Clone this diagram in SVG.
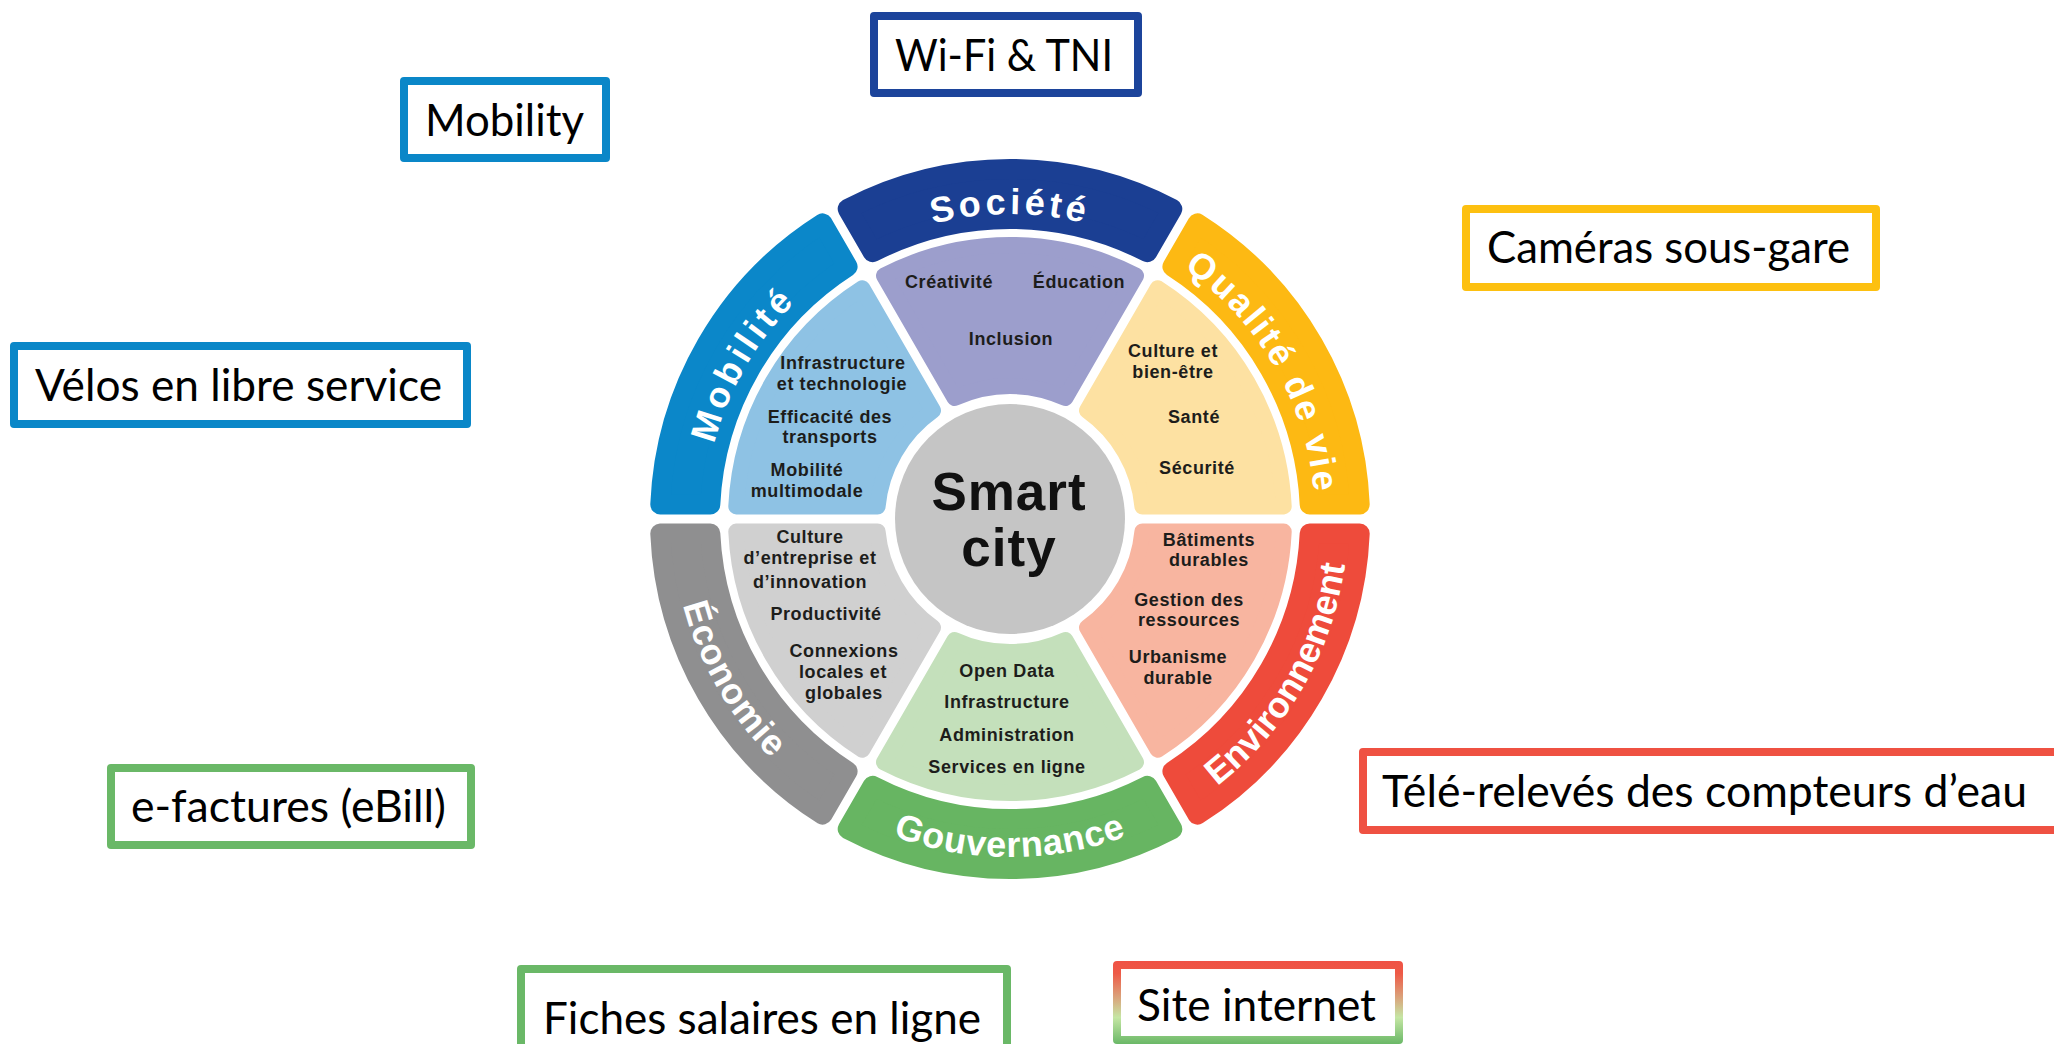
<svg xmlns="http://www.w3.org/2000/svg" xmlns:xlink="http://www.w3.org/1999/xlink" width="2054" height="1044" viewBox="0 0 2054 1044">
<style>
.box{fill:#fff;stroke-width:8;stroke-linejoin:round}
.bt{font-family:Lato,'Liberation Sans',Arial,sans-serif;font-size:44px;fill:#000}
.band{stroke-width:20;stroke-linejoin:round}
.seg{stroke-width:16;stroke-linejoin:round}
.lab{font-family:'Liberation Sans',Arial,sans-serif;font-weight:bold;font-size:36px;fill:#fff}
.it{font-family:'Liberation Sans',Arial,sans-serif;font-weight:bold;font-size:18px;fill:#1d1d1b;text-anchor:middle;letter-spacing:0.6px}
.big{font-family:'Liberation Sans',Arial,sans-serif;font-weight:bold;font-size:53px;fill:#111;text-anchor:middle;letter-spacing:1px}
</style>
<defs>
<path id="bandShape" d="M -162.3 -310.1 A 350 350 0 0 1 162.3 -310.1 L 137.3 -266.8 A 300 300 0 0 0 -137.3 -266.8 Z"/>
<path id="segShape" d="M -126.0 -243.3 A 274 274 0 0 1 126.0 -243.3 L 55.4 -120.9 A 133 133 0 0 0 -55.4 -120.9 Z"/>
<path id="tp-soc" d="M 813.9 285.4 A 305 305 0 0 1 1206.1 285.4"/>
<path id="tp-qual" d="M 1114.3 232.4 A 305 305 0 0 1 1310.4 572.0"/>
<path id="tp-mob" d="M 709.6 572.0 A 305 305 0 0 1 905.7 232.4"/>
<path id="tp-env" d="M 1125.6 836.6 A 338 338 0 0 0 1342.9 460.3"/>
<path id="tp-gouv" d="M 792.7 777.9 A 338 338 0 0 0 1227.3 777.9"/>
<path id="tp-eco" d="M 677.1 460.3 A 338 338 0 0 0 894.4 836.6"/>
<linearGradient id="gradSite" gradientUnits="userSpaceOnUse" x1="0" y1="961" x2="0" y2="1044">
<stop offset="0" stop-color="#ef5245"/>
<stop offset="0.15" stop-color="#ee5a47"/>
<stop offset="0.45" stop-color="#d9a67d"/>
<stop offset="0.68" stop-color="#c5e6a4"/>
<stop offset="1" stop-color="#6ab867"/>
</linearGradient>
</defs>
<rect width="2054" height="1044" fill="#fff"/>

<g id="connectors"/>

<g id="sector-societe">
<use href="#bandShape" class="band" fill="#1b3f93" stroke="#1b3f93" transform="translate(1010 519)"/>
<use href="#segShape" class="seg" fill="#9c9ecc" stroke="#9c9ecc" transform="translate(1010 519)"/>
<text class="lab" letter-spacing="4"><textPath href="#tp-soc" startOffset="50%" text-anchor="middle">Société</textPath></text>
<text class="it" x="949" y="288">Créativité</text>
<text class="it" x="1079" y="288">Éducation</text>
<text class="it" x="1011" y="345">Inclusion</text>
</g>

<g id="sector-qualite">
<use href="#bandShape" class="band" fill="#fdb913" stroke="#fdb913" transform="translate(1010 519) rotate(60)"/>
<use href="#segShape" class="seg" fill="#fde1a2" stroke="#fde1a2" transform="translate(1010 519) rotate(60)"/>
<text class="lab" letter-spacing="2.5"><textPath href="#tp-qual" startOffset="50%" text-anchor="middle">Qualité de vie</textPath></text>
<text class="it" x="1173" y="357">Culture et</text>
<text class="it" x="1173" y="378">bien-être</text>
<text class="it" x="1194" y="423">Santé</text>
<text class="it" x="1197" y="474">Sécurité</text>
</g>

<g id="sector-environnement">
<use href="#bandShape" class="band" fill="#ee4b3b" stroke="#ee4b3b" transform="translate(1010 519) rotate(120)"/>
<use href="#segShape" class="seg" fill="#f8b5a0" stroke="#f8b5a0" transform="translate(1010 519) rotate(120)"/>
<text class="lab" letter-spacing="0"><textPath href="#tp-env" startOffset="50%" text-anchor="middle">Environnement</textPath></text>
<text class="it" x="1209" y="546">Bâtiments</text>
<text class="it" x="1209" y="566">durables</text>
<text class="it" x="1189" y="606">Gestion des</text>
<text class="it" x="1189" y="626">ressources</text>
<text class="it" x="1178" y="663">Urbanisme</text>
<text class="it" x="1178" y="684">durable</text>
</g>

<g id="sector-gouvernance">
<use href="#bandShape" class="band" fill="#67b562" stroke="#67b562" transform="translate(1010 519) rotate(180)"/>
<use href="#segShape" class="seg" fill="#c4e0bb" stroke="#c4e0bb" transform="translate(1010 519) rotate(180)"/>
<text class="lab" letter-spacing="0.8"><textPath href="#tp-gouv" startOffset="50%" text-anchor="middle">Gouvernance</textPath></text>
<text class="it" x="1007" y="677">Open Data</text>
<text class="it" x="1007" y="708">Infrastructure</text>
<text class="it" x="1007" y="741">Administration</text>
<text class="it" x="1007" y="773">Services en ligne</text>
</g>

<g id="sector-economie">
<use href="#bandShape" class="band" fill="#8f8f90" stroke="#8f8f90" transform="translate(1010 519) rotate(240)"/>
<use href="#segShape" class="seg" fill="#d0d0d0" stroke="#d0d0d0" transform="translate(1010 519) rotate(240)"/>
<text class="lab" letter-spacing="1"><textPath href="#tp-eco" startOffset="50%" text-anchor="middle">Économie</textPath></text>
<text class="it" x="810" y="543">Culture</text>
<text class="it" x="810" y="564">d’entreprise et</text>
<text class="it" x="810" y="588">d’innovation</text>
<text class="it" x="826" y="620">Productivité</text>
<text class="it" x="844" y="657">Connexions</text>
<text class="it" x="843" y="678">locales et</text>
<text class="it" x="844" y="699">globales</text>
</g>

<g id="sector-mobilite">
<use href="#bandShape" class="band" fill="#0b87c9" stroke="#0b87c9" transform="translate(1010 519) rotate(300)"/>
<use href="#segShape" class="seg" fill="#8ec2e4" stroke="#8ec2e4" transform="translate(1010 519) rotate(300)"/>
<text class="lab" letter-spacing="4"><textPath href="#tp-mob" startOffset="50%" text-anchor="middle">Mobilité</textPath></text>
<text class="it" x="843" y="369">Infrastructure</text>
<text class="it" x="842" y="390">et technologie</text>
<text class="it" x="830" y="423">Efficacité des</text>
<text class="it" x="830" y="443">transports</text>
<text class="it" x="807" y="476">Mobilité</text>
<text class="it" x="807" y="497">multimodale</text>
</g>

<g id="center">
<circle cx="1010" cy="519" r="115" fill="#c5c5c5"/>
<text class="big" x="1009" y="510">Smart</text>
<text class="big" x="1009" y="566">city</text>
</g>

<g id="box-wifi">
<rect class="box" x="874" y="16" width="264" height="77" stroke="#1c449b"/>
<text class="bt" x="895" y="71" textLength="218" lengthAdjust="spacingAndGlyphs">Wi-Fi &amp; TNI</text>
</g>
<g id="box-mobility">
<rect class="box" x="404" y="81" width="202" height="77" stroke="#0a87c8"/>
<text class="bt" x="425" y="136" textLength="159" lengthAdjust="spacingAndGlyphs">Mobility</text>
</g>
<g id="box-cameras">
<rect class="box" x="1466" y="209" width="410" height="78" stroke="#fdc010"/>
<text class="bt" x="1487" y="263" textLength="363" lengthAdjust="spacingAndGlyphs">Caméras sous-gare</text>
</g>
<g id="box-velos">
<rect class="box" x="14" y="346" width="453" height="78" stroke="#0a87c8"/>
<text class="bt" x="35" y="401" textLength="407" lengthAdjust="spacingAndGlyphs">Vélos en libre service</text>
</g>
<g id="box-efactures">
<rect class="box" x="111" y="768" width="360" height="77" stroke="#6ab867"/>
<text class="bt" x="131" y="822" textLength="315" lengthAdjust="spacingAndGlyphs">e-factures (eBill)</text>
</g>
<g id="box-telereleves">
<rect class="box" x="1363" y="752" width="720" height="78" stroke="#ef5142"/>
<text class="bt" x="1382" y="807" textLength="645" lengthAdjust="spacingAndGlyphs">Télé-relevés des compteurs d’eau</text>
</g>
<g id="box-fiches">
<rect class="box" x="521" y="969" width="486" height="100" stroke="#6ab867"/>
<text class="bt" x="543" y="1034" textLength="438" lengthAdjust="spacingAndGlyphs">Fiches salaires en ligne</text>
</g>
<g id="box-site">
<rect class="box" x="1117" y="965" width="282" height="75" stroke="url(#gradSite)"/>
<text class="bt" x="1137" y="1021" textLength="239" lengthAdjust="spacingAndGlyphs">Site internet</text>
</g>
</svg>
